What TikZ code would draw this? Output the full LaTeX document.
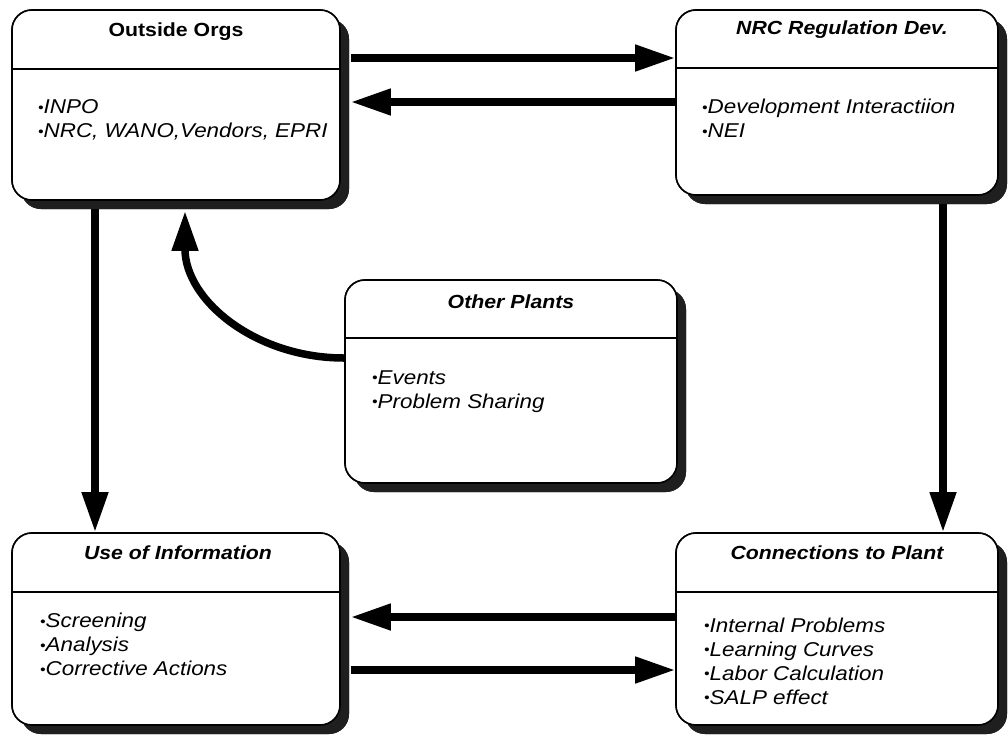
\documentclass[tikz,border=0pt]{standalone}
\usepackage{fontspec}
\usepackage{graphicx}
\setmainfont{Liberation Sans}[FakeStretch=1.12]
\usetikzlibrary{arrows.meta,shadows}

% small bullet used in the item lists
\newcommand\itm{\raisebox{0.12ex}{\scalebox{0.7}{\textbullet}}}

\begin{document}
\begin{tikzpicture}[x=1pt,y=-1pt,
  box/.style={draw=black, line width=1.6pt, fill=white, rounded corners=20pt,
    inner sep=0pt,
    drop shadow={shadow xshift=9pt, shadow yshift=-9pt, fill=black!88, opacity=1}},
  ttl/.style={font=\fontsize{19}{22}\selectfont\bfseries\itshape, inner sep=0pt},
  items/.style={font=\fontsize{20}{24}\selectfont\itshape, align=left,
    inner sep=0pt, anchor=base west},
  rule/.style={line width=1.2pt},
  arr/.style={line width=7.5pt, -{Triangle[length=40pt,width=25pt]}}]

\useasboundingbox[fill=white] (0,0) rectangle (1008,740);

% boxes
\node[box, minimum width=328pt, minimum height=190pt] (oo)   at (176,105)   {};
\node[box, minimum width=322pt, minimum height=185pt] (nrc)  at (837,102.5) {};
\node[box, minimum width=332pt, minimum height=203pt] (op)   at (511,381.5) {};
\node[box, minimum width=328pt, minimum height=192pt] (use)  at (176,629)   {};
\node[box, minimum width=322pt, minimum height=192pt] (conn) at (837,629)   {};

% connectors
\draw[arr] ([xshift=10pt,yshift=47pt]oo.east) -- ([yshift=44.5pt]nrc.west);
\draw[arr] ([yshift=0.5pt]nrc.west) -- ([xshift=10pt,yshift=3pt]oo.east);
\draw[arr] ([xshift=-81pt]oo.south) -- ([xshift=-81pt]use.north);
\draw[arr] ([xshift=106pt]nrc.south) -- ([xshift=106pt]conn.north);
\draw[arr] ([yshift=12pt]conn.west) -- ([xshift=10pt,yshift=12pt]use.east);
\draw[arr] ([xshift=10pt,yshift=-41pt]use.east) -- ([yshift=-41pt]conn.west);
\draw[arr] ([yshift=23.5pt]op.west) .. controls (255,358) and (185,300) .. ([xshift=9pt,yshift=-10pt]oo.south);

% redraw boxes over connector tails
\node[box, minimum width=328pt, minimum height=190pt] (oo2)   at (176,105)   {};
\node[box, minimum width=322pt, minimum height=185pt] (nrc2)  at (837,102.5) {};
\node[box, minimum width=332pt, minimum height=203pt] (op2)   at (511,381.5) {};
\node[box, minimum width=328pt, minimum height=192pt] (use2)  at (176,629)   {};
\node[box, minimum width=322pt, minimum height=192pt] (conn2) at (837,629)   {};

% titles and dividers
\node[ttl, font=\fontsize{19}{22}\selectfont\bfseries] (oo-t) at (176,32) {Outside Orgs};
\draw[rule] (oo.west |- 0,69) -- (oo.east |- 0,69);
\node[ttl] (nrc-t) at (842,30) {NRC Regulation Dev.};
\draw[rule] (nrc.west |- 0,68) -- (nrc.east |- 0,68);
\node[ttl] (op-t) at (511,302) {Other Plants};
\draw[rule] (op.west |- 0,338) -- (op.east |- 0,338);
\node[ttl] (use-t) at (178,553) {Use of Information};
\draw[rule] (use.west |- 0,592) -- (use.east |- 0,592);
\node[ttl] (conn-t) at (837,553) {Connections to Plant};
\draw[rule] (conn.west |- 0,592) -- (conn.east |- 0,592);

% item lists (anchored at the baseline of their last line)
\node[items] (oo-i) at (38,137.5) {\itm INPO\\\itm NRC, WANO,Vendors, EPRI};
\node[items] (nrc-i) at (702,137.5) {\itm Development Interactiion\\\itm NEI};
\node[items] (op-i) at (372,408) {\itm Events\\\itm Problem Sharing};
\node[items] (use-i) at (40,675.5) {\itm Screening\\\itm Analysis\\\itm Corrective Actions};
\node[items] (conn-i) at (704,704) {\itm Internal Problems\\\itm Learning Curves\\\itm Labor Calculation\\\itm SALP effect};
\end{tikzpicture}
\end{document}
